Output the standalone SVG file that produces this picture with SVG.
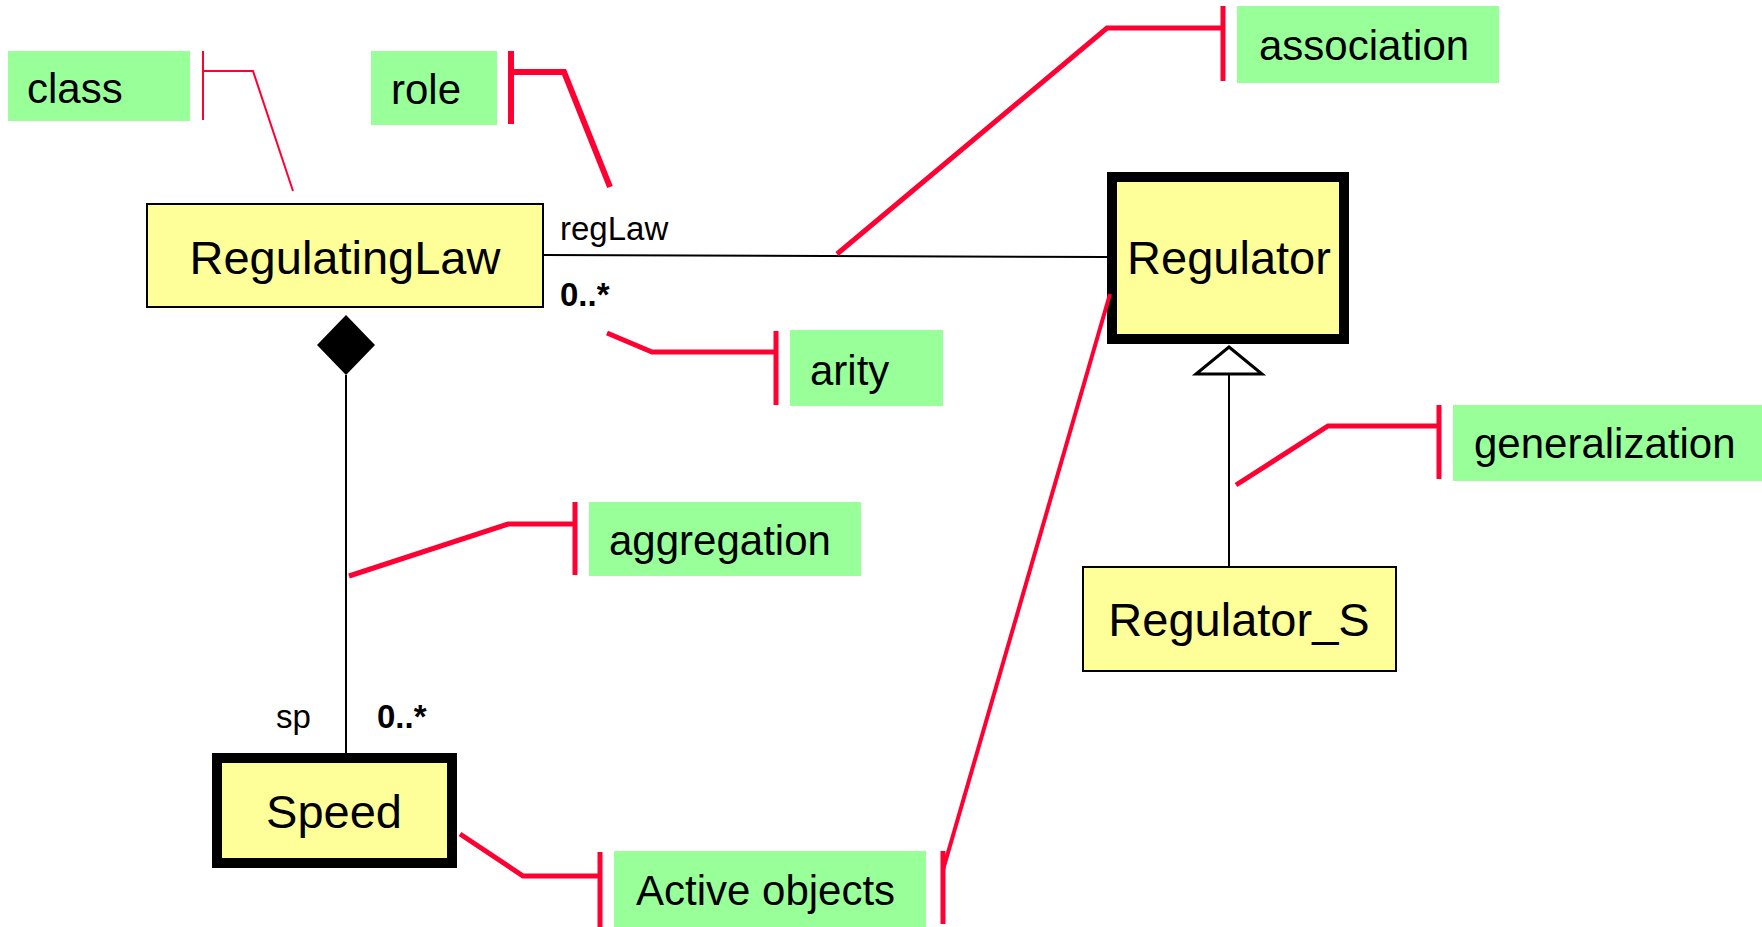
<svg xmlns="http://www.w3.org/2000/svg" width="1762" height="927" viewBox="0 0 1762 927">
  <style>
    .cls { fill: #ffff99; stroke: #000; }
    .thin { stroke-width: 2; }
    .active { stroke-width: 10; }
    .cname { font-family: "Liberation Sans", Arial, sans-serif; font-size: 47px; fill: #000; text-anchor: middle; }
    .note { fill: #99ff99; }
    .ntext { font-family: "Liberation Sans", Arial, sans-serif; font-size: 42px; fill: #000; }
    .small { font-family: "Liberation Sans", Arial, sans-serif; font-size: 33px; fill: #000; }
    .bold { font-weight: bold; }
    .lead { fill: none; stroke: #ff0033; stroke-width: 5; stroke-linejoin: miter; }
    .line { fill: none; stroke: #000; stroke-width: 2; }
  </style>

  <!-- connectors: association, aggregation, generalization -->
  <g id="connectors">
    <line class="line" x1="543" y1="255" x2="1107" y2="257"/>
    <polygon points="346,315 375,345 346,375 317,345" fill="#000"/>
    <line class="line" x1="346" y1="375" x2="346" y2="755"/>
    <line class="line" x1="1229" y1="374" x2="1229" y2="567"/>
    <polygon points="1229,347 1262,374 1196,374" fill="#fff" stroke="#000" stroke-width="3"/>
    <text class="small" x="560" y="240">regLaw</text>
    <text class="small bold" x="560" y="306">0..*</text>
    <text class="small" x="276" y="728">sp</text>
    <text class="small bold" x="377" y="728">0..*</text>
  </g>

  <!-- classes -->
  <g id="RegulatingLaw">
    <rect class="cls thin" x="147" y="204" width="396" height="103"/>
    <text class="cname" x="345" y="274">RegulatingLaw</text>
  </g>
  <g id="Regulator">
    <rect class="cls active" x="1112" y="177" width="232" height="162"/>
    <text class="cname" x="1229" y="274">Regulator</text>
  </g>
  <g id="Regulator_S">
    <rect class="cls thin" x="1083" y="567" width="313" height="104"/>
    <text class="cname" x="1239" y="636">Regulator_S</text>
  </g>
  <g id="Speed">
    <rect class="cls active" x="217" y="758" width="235" height="105"/>
    <text class="cname" x="334" y="828">Speed</text>
  </g>

  <!-- annotation callouts -->
  <g id="note-class">
    <rect class="note" x="8" y="51" width="182" height="70"/>
    <text class="ntext" x="27" y="103">class</text>
    <polyline class="lead" style="stroke-width:2" points="203,51 203,120"/>
    <polyline class="lead" style="stroke-width:2" points="203,71 253,71 293,191"/>
  </g>
  <g id="note-role">
    <rect class="note" x="371" y="51" width="126" height="74"/>
    <text class="ntext" x="391" y="104">role</text>
    <polyline class="lead" style="stroke-width:6" points="511,51 511,124"/>
    <polyline class="lead" style="stroke-width:6" points="511,72 564,72 610,187"/>
  </g>
  <g id="note-association">
    <rect class="note" x="1237" y="6" width="262" height="77"/>
    <text class="ntext" x="1259" y="60">association</text>
    <polyline class="lead" points="1223,6 1223,81"/>
    <polyline class="lead" points="1223,28 1107,28 837,254"/>
  </g>
  <g id="note-arity">
    <rect class="note" x="790" y="330" width="153" height="76"/>
    <text class="ntext" x="810" y="385">arity</text>
    <polyline class="lead" points="776,331 776,405"/>
    <polyline class="lead" points="776,352 652,352 607,333"/>
  </g>
  <g id="note-generalization">
    <rect class="note" x="1453" y="405" width="309" height="76"/>
    <text class="ntext" x="1474" y="458">generalization</text>
    <polyline class="lead" points="1439,405 1439,479"/>
    <polyline class="lead" points="1439,426 1328,426 1236,485"/>
  </g>
  <g id="note-aggregation">
    <rect class="note" x="589" y="502" width="272" height="74"/>
    <text class="ntext" x="609" y="555">aggregation</text>
    <polyline class="lead" points="575,502 575,575"/>
    <polyline class="lead" points="575,524 508,524 349,576"/>
  </g>
  <g id="note-active">
    <rect class="note" x="614" y="851" width="312" height="76"/>
    <text class="ntext" x="636" y="905">Active objects</text>
    <polyline class="lead" points="600,852 600,927"/>
    <polyline class="lead" points="600,876 523,876 460,834"/>
    <polyline class="lead" points="943,851 943,924"/>
    <polyline class="lead" style="stroke-width:4" points="943,870 1110,294"/>
  </g>
</svg>
